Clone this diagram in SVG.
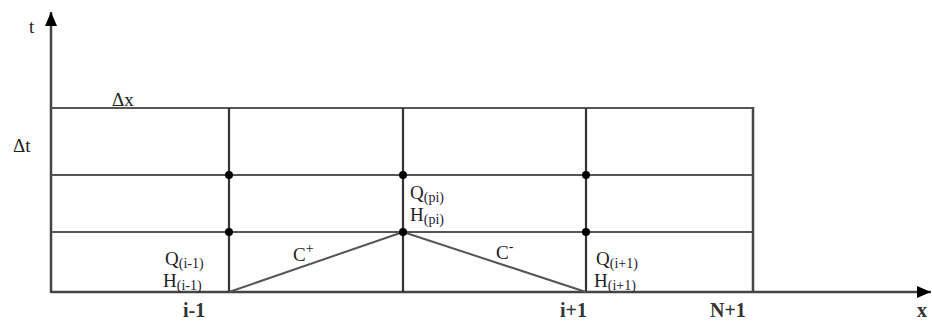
<svg xmlns="http://www.w3.org/2000/svg" width="932" height="321" viewBox="0 0 932 321">
<style>
.g{stroke:#555;stroke-width:2;fill:none}
.v{stroke:#333;stroke-width:2.2;fill:none}
.ax{stroke:#444;stroke-width:2.5;fill:none}
.d{fill:#000}
text{font-family:"Liberation Serif","Times New Roman",serif;font-size:19px;fill:#222}
.s{font-size:14px;fill:#223}
.lb{font-weight:bold;font-size:20px;fill:#333}
</style>
<defs>
<marker id="ahv" markerWidth="16" markerHeight="12" refX="14" refY="6" orient="auto" markerUnits="userSpaceOnUse">
<path d="M0,0 L14,6 L0,12 Z" fill="#000"/>
</marker>
</defs>
<g id="axes">
<line class="ax" x1="51" y1="293" x2="51" y2="12" marker-end="url(#ahv)"/>
<line class="ax" x1="51" y1="292" x2="931" y2="292" marker-end="url(#ahv)"/>
</g>
<g id="grid">
<line class="g" x1="51" y1="108" x2="753" y2="108"/>
<line class="g" x1="51" y1="175" x2="753" y2="175"/>
<line class="g" x1="51" y1="232" x2="753" y2="232"/>
<line class="v" x1="229" y1="108" x2="229" y2="292"/>
<line class="v" x1="403" y1="108" x2="403" y2="292"/>
<line class="v" x1="586" y1="108" x2="586" y2="292"/>
<line class="ax" x1="753" y1="107" x2="753" y2="292"/>
</g>
<g id="connectors">
<line class="g" x1="229" y1="292" x2="403" y2="232"/>
<line class="g" x1="403" y1="232" x2="586" y2="292"/>
</g>
<g id="nodes">
<circle class="d" cx="229" cy="175" r="4"/>
<circle class="d" cx="229" cy="232" r="4"/>
<circle class="d" cx="403" cy="175" r="4"/>
<circle class="d" cx="403" cy="232" r="4"/>
<circle class="d" cx="586" cy="175" r="4"/>
<circle class="d" cx="586" cy="232" r="4"/>
</g>
<g id="labels">
<text x="29" y="33">t</text>
<text x="112" y="106">Δx</text>
<text x="13" y="152">Δt</text>
<text x="165" y="265">Q<tspan class="s" dy="3">(i-1)</tspan></text>
<text x="163" y="287">H<tspan class="s" dy="3">(i-1)</tspan></text>
<text x="410" y="199">Q<tspan class="s" dy="3">(pi)</tspan></text>
<text x="410" y="221">H<tspan class="s" dy="3">(pi)</tspan></text>
<text x="596" y="265">Q<tspan class="s" dy="3">(i+1)</tspan></text>
<text x="594" y="287">H<tspan class="s" dy="3">(i+1)</tspan></text>
<text x="293" y="261">C<tspan class="s" dy="-8">+</tspan></text>
<text x="496" y="259">C<tspan class="s" dy="-8">-</tspan></text>
<text class="lb" x="183" y="317">i-1</text>
<text class="lb" x="560" y="317">i+1</text>
<text class="lb" x="710" y="317">N+1</text>
<text class="lb" x="917" y="317">x</text>
</g>
</svg>
